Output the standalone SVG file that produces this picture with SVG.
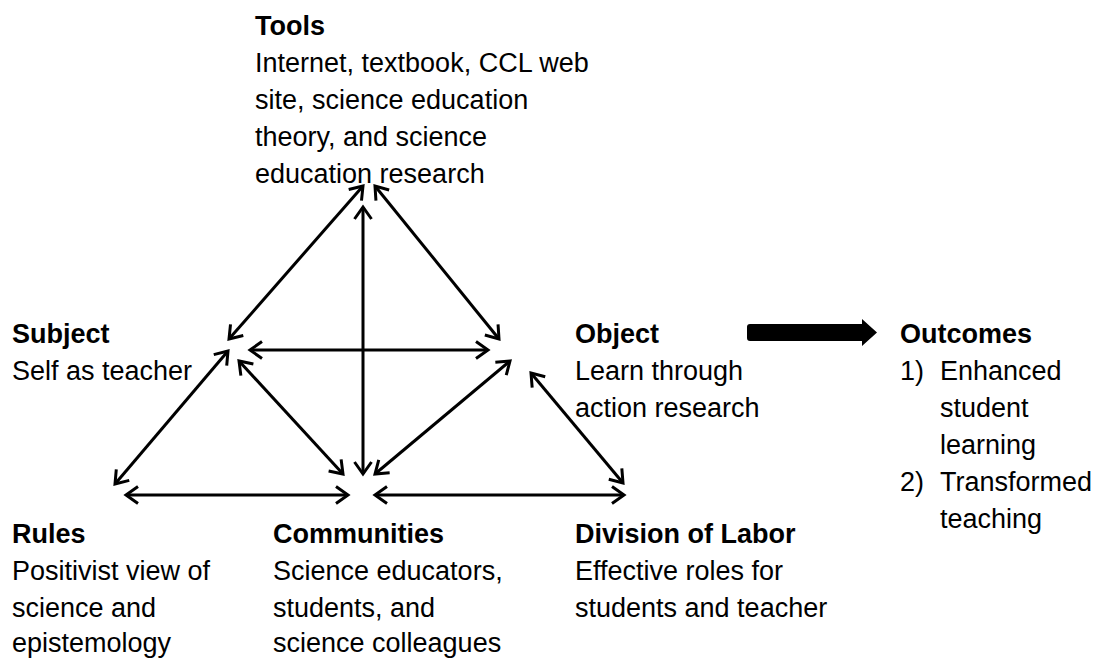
<svg xmlns="http://www.w3.org/2000/svg" width="1112" height="660" viewBox="0 0 1112 660">
  <style>
    text { font-family: "Liberation Sans", Arial, sans-serif; font-size: 27px; fill: #000; }
    .h { font-weight: bold; }
    .conn line { stroke: #000; stroke-width: 3; fill: none; marker-start: url(#head); marker-end: url(#head); }
  </style>
  <defs>
    <!-- open chevron arrowhead, used on both ends of every connector -->
    <marker id="head" viewBox="-16 -10 20 20" refX="0" refY="0" markerWidth="20" markerHeight="20" markerUnits="userSpaceOnUse" orient="auto-start-reverse" overflow="visible">
      <path d="M-12,-8.5 L0,0 L-12,8.5" fill="none" stroke="#000" stroke-width="3" stroke-linejoin="miter"/>
    </marker>
  </defs>
  <rect width="1112" height="660" fill="#fff"/>

  <!-- connectors -->
  <g id="connectors" class="conn">
    <line x1="363" y1="186" x2="229" y2="339"/>
    <line x1="375" y1="186" x2="499" y2="339"/>
    <line x1="363" y1="207" x2="363" y2="474"/>
    <line x1="250" y1="350" x2="488" y2="350"/>
    <line x1="228" y1="351" x2="115" y2="484"/>
    <line x1="239" y1="361" x2="343" y2="474"/>
    <line x1="510" y1="361" x2="375" y2="474"/>
    <line x1="531" y1="373" x2="623" y2="483"/>
    <line x1="126" y1="495" x2="348" y2="495"/>
    <line x1="375" y1="495" x2="624" y2="495"/>
  </g>

  <!-- block arrow towards outcomes -->
  <g id="to-outcomes">
    <path d="M750,324 L862,324 L862,319 L877,332.5 L862,346 L862,341 L750,341 Q747,341 747,338 L747,327 Q747,324 750,324 Z" fill="#000"/>
  </g>

  <g id="tools">
    <text class="h" x="255" y="35">Tools</text>
    <text x="255" y="72">Internet, textbook, CCL web</text>
    <text x="255" y="109">site, science education</text>
    <text x="255" y="146">theory, and science</text>
    <text x="255" y="183">education research</text>
  </g>

  <g id="subject">
    <text class="h" x="12" y="343">Subject</text>
    <text x="12" y="380">Self as teacher</text>
  </g>

  <g id="object">
    <text class="h" x="575" y="343">Object</text>
    <text x="575" y="380">Learn through</text>
    <text x="575" y="417">action research</text>
  </g>

  <g id="outcomes">
    <text class="h" x="900" y="343">Outcomes</text>
    <text x="900" y="380">1)</text>
    <text x="940" y="380">Enhanced</text>
    <text x="940" y="417">student</text>
    <text x="940" y="454">learning</text>
    <text x="900" y="491">2)</text>
    <text x="940" y="491">Transformed</text>
    <text x="940" y="528">teaching</text>
  </g>

  <g id="rules">
    <text class="h" x="12" y="543">Rules</text>
    <text x="12" y="580">Positivist view of</text>
    <text x="12" y="617">science and</text>
    <text x="12" y="652">epistemology</text>
  </g>

  <g id="communities">
    <text class="h" x="273" y="543">Communities</text>
    <text x="273" y="580">Science educators,</text>
    <text x="273" y="617">students, and</text>
    <text x="273" y="652">science colleagues</text>
  </g>

  <g id="division">
    <text class="h" x="575" y="543">Division of Labor</text>
    <text x="575" y="580">Effective roles for</text>
    <text x="575" y="617">students and teacher</text>
  </g>
</svg>
